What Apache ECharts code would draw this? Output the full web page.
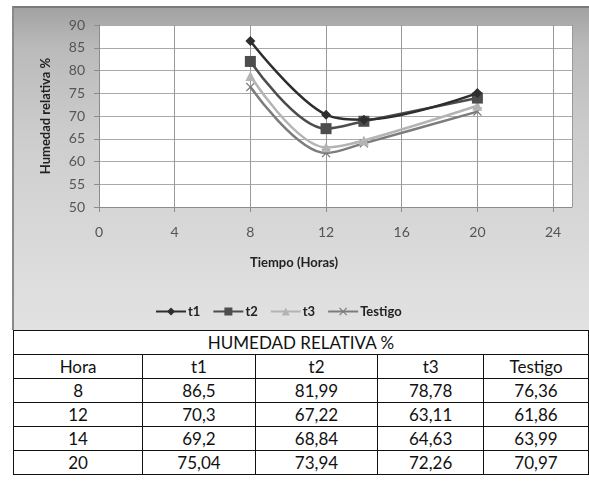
<!DOCTYPE html>
<html>
<head>
<meta charset="utf-8">
<script src="https://cdn.jsdelivr.net/npm/echarts@6/dist/echarts.min.js"></script>
<style>
  html, body { margin: 0; padding: 0; background: #fff; width: 589px; height: 481px; overflow: hidden; }
  #bg { position: absolute; left: 12px; top: 6px; width: 580px; height: 324px;
        background: linear-gradient(to bottom, #a2a2a2 0%, #bababa 12%, #cdcdcd 40%, #dadada 75%, #e2e2e2 100%);
        border-left: 2px solid #8a8a8a; border-top: 2px solid #7a7a7a; box-sizing: border-box; }
  #chart { position: absolute; left: 0; top: 0; width: 589px; height: 481px; }
  #tbl { position: absolute; left: 13px; top: 330px; border-collapse: collapse; background: #fff;
         font-family: Lato, "Open Sans", sans-serif; font-size: 17px; color: #111; }
  #tbl td { border: 1.5px solid #111; text-align: center; height: 23px; padding: 0; line-height: 23px; }
</style>
</head>
<body>
<div id="bg"></div>
<div id="chart"></div>
<table id="tbl"></table>
<script>
var tableTitle = 'HUMEDAD RELATIVA %';
var horas = [8, 12, 14, 20];
var seriesNames = ['t1', 't2', 't3', 'Testigo'];
var t1 = [86.5, 70.3, 69.2, 75.04];
var t2 = [81.99, 67.22, 68.84, 73.94];
var t3 = [78.78, 63.11, 64.63, 72.26];
var testigo = [76.36, 61.86, 63.99, 70.97];
var xTicks = [0, 4, 8, 12, 16, 20, 24];
var yTicks = [50, 55, 60, 65, 70, 75, 80, 85, 90];

var allValues = [t1, t2, t3, testigo];
var colors = ['#2e2e2e', '#4d4d4d', '#b4b4b4', '#7c7c7c'];
var symbols = ['diamond', 'rect', 'triangle',
  'path://M0,1L1,0L5,4L9,0L10,1L6,5L10,9L9,10L5,6L1,10L0,9L4,5Z'];
var symSizes = [10, 11, 10, 9];

// table
var tbl = document.getElementById('tbl');
var colW = [130, 113, 123, 106, 105];
function fmt(v) { return String(v).replace('.', ','); }
var html = '<tr><td colspan="5">' + tableTitle + '</td></tr>';
html += '<tr><td style="width:' + colW[0] + 'px">Hora</td>';
seriesNames.forEach(function (n, i) { html += '<td style="width:' + colW[i + 1] + 'px">' + n + '</td>'; });
html += '</tr>';
horas.forEach(function (h, r) {
  html += '<tr><td>' + h + '</td>';
  allValues.forEach(function (arr) { html += '<td>' + fmt(arr[r]) + '</td>'; });
  html += '</tr>';
});
tbl.innerHTML = html;

var chart = echarts.init(document.getElementById('chart'), null, { renderer: 'canvas' });
var font = 'Lato, "Open Sans", sans-serif';
var series = seriesNames.map(function (n, i) {
  return {
    name: n,
    type: 'line',
    smooth: 0.35,
    data: horas.map(function (h, k) { return [h, allValues[i][k]]; }),
    symbol: symbols[i],
    symbolSize: symSizes[i],
    showAllSymbol: true,
    lineStyle: { color: colors[i], width: 2.5 },
    itemStyle: { color: colors[i] },
    z: 10 - i
  };
});

chart.setOption({
  backgroundColor: 'transparent',
  animation: false,
  grid: { left: 99, top: 25, width: 473, height: 182, containLabel: false, backgroundColor: '#fff', show: true, borderWidth: 0 },
  xAxis: {
    type: 'value', min: 0, max: 25, interval: 4,
    axisLine: { show: true, onZero: false, lineStyle: { color: '#8c8c8c', width: 1 } },
    axisTick: { show: true, length: 5, lineStyle: { color: '#8c8c8c' } },
    axisLabel: { margin: 18, color: '#555', fontSize: 14, fontFamily: font, showMaxLabel: false,
      formatter: function (v) { return xTicks.indexOf(v) >= 0 ? String(v) : ''; } },
    splitLine: { show: true, lineStyle: { color: '#999', width: 1 } }
  },
  yAxis: {
    type: 'value', min: 50, max: 90, interval: 5,
    name: 'Humedad relativa %', nameLocation: 'middle', nameGap: 47, nameRotate: 90,
    nameTextStyle: { color: '#222', fontSize: 13, fontWeight: 'bold', fontFamily: font },
    axisLine: { show: true, lineStyle: { color: '#8c8c8c', width: 1 } },
    axisTick: { show: true, length: 5, lineStyle: { color: '#8c8c8c' } },
    axisLabel: { margin: 14, color: '#555', fontSize: 14, fontFamily: font,
      formatter: function (v) { return yTicks.indexOf(v) >= 0 ? String(v) : ''; } },
    splitLine: { show: true, lineStyle: { color: '#aaa', width: 1 } }
  },
  legend: {
    data: seriesNames,
    left: 150, top: 300,
    itemWidth: 30, itemHeight: 10, itemGap: 12,
    textStyle: { color: '#222', fontSize: 13, fontWeight: 'bold', fontFamily: font, padding: [0, 0, 0, -3] }
  },
  graphic: [{
    type: 'text', left: 250, top: 256,
    style: { text: 'Tiempo (Horas)', fill: '#222', font: 'bold 13px ' + font }
  }],
  series: series
});
</script>
</body>
</html>
